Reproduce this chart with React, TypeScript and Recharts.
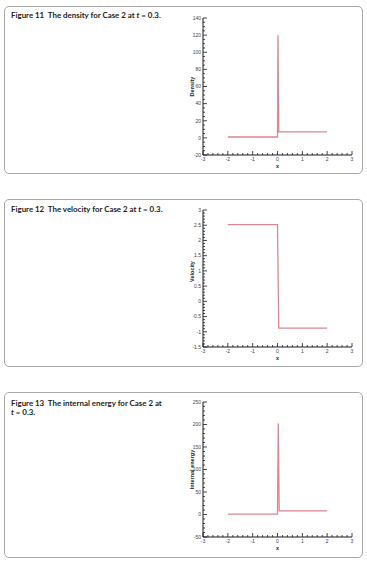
import { LineChart, Line, XAxis, YAxis } from 'recharts';

const xMajor = [-3, -2, -1, 0, 1, 2, 3];

const densityX = [-2, 0, 0.02, 0.05, 2];
const densityY = [1, 1, 120, 7, 7];
const densityTicks = [-20, 0, 20, 40, 60, 80, 100, 120, 140];

const velocityX = [-2, 0, 0.05, 2];
const velocityY = [2.52, 2.52, -0.88, -0.88];
const velocityTicks = [-1.5, -1, -0.5, 0, 0.5, 1, 1.5, 2, 2.5, 3];

const energyX = [-2, 0, 0.03, 0.07, 2];
const energyY = [1, 1, 202, 8, 8];
const energyTicks = [-50, 0, 50, 100, 150, 200, 250];

const LINE = '#da8892';
const AXIS = '#1a1a1a';
const TICK_FONT = 'Liberation Sans, Arial, sans-serif';

const round = (v: number) => Math.round(v * 1000) / 1000;

// majors plus evenly spaced minors between them
function withMinors(major: number[], parts: number) {
  const out: number[] = [];
  for (let i = 0; i < major.length - 1; i++) {
    const step = (major[i + 1] - major[i]) / parts;
    for (let k = 0; k < parts; k++) out.push(round(major[i] + k * step));
  }
  out.push(major[major.length - 1]);
  return out;
}

const isMajor = (v: number, majors: number[]) => majors.some(m => Math.abs(m - v) < 1e-6);

function makeXTick(majors: number[]) {
  return function XTick(props: any) {
    const { x, y, payload } = props;
    const major = isMajor(payload.value, majors);
    return (
      <g>
        <line x1={x} y1={y} x2={x} y2={y - (major ? 4 : 2)} stroke={AXIS} strokeWidth={0.8} />
        {major && (
          <text x={x} y={y + 5.5} textAnchor="middle" fontSize={5} fill="#444" fontFamily={TICK_FONT}>
            {payload.value}
          </text>
        )}
      </g>
    );
  };
}

function makeYTick(majors: number[]) {
  return function YTick(props: any) {
    const { x, y, payload } = props;
    const major = isMajor(payload.value, majors);
    return (
      <g>
        <line x1={x} y1={y} x2={x + (major ? 4 : 2)} y2={y} stroke={AXIS} strokeWidth={0.8} />
        {major && (
          <text x={x - 2} y={y + 1.8} textAnchor="end" fontSize={5} fill="#444" fontFamily={TICK_FONT}>
            {payload.value}
          </text>
        )}
      </g>
    );
  };
}

interface PlotProps {
  xs: number[];
  ys: number[];
  yTicks: number[];
  yMinorParts: number;
  yLabel: string;
  top: number;
  height: number;
  labelDy?: number;
}

function Plot({ xs, ys, yTicks, yMinorParts, yLabel, top, height, labelDy = 0 }: PlotProps) {
  const data = xs.map((x, i) => ({ x, y: ys[i] }));
  const xTicks = withMinors(xMajor, 5);
  const yAll = withMinors(yTicks, yMinorParts);
  return (
    <div style={{ position: 'absolute', left: 170, top, width: 190, height }}>
      <LineChart width={190} height={height} data={data} margin={{ top: 10, right: 8, left: 3, bottom: 0 }}>
        <XAxis
          dataKey="x"
          type="number"
          domain={[-3, 3]}
          ticks={xTicks}
          interval={0}
          tickSize={0}
          tickMargin={0}
          tickLine={false}
          tick={makeXTick(xMajor)}
          stroke={AXIS}
          height={13}
          label={{ value: 'x', position: 'insideBottom', offset: 0, fontSize: 5.5, fontWeight: 'bold', fill: '#222', fontFamily: TICK_FONT }}
        />
        <YAxis
          type="number"
          domain={[yTicks[0], yTicks[yTicks.length - 1]]}
          ticks={yAll}
          interval={0}
          tickSize={0}
          tickMargin={0}
          tickLine={false}
          tick={makeYTick(yTicks)}
          stroke={AXIS}
          width={30}
          label={{
            value: yLabel,
            angle: -90,
            position: 'insideLeft',
            offset: 19,
            dy: labelDy,
            fontSize: 5.5,
            fontWeight: 'bold',
            fill: '#222',
            fontFamily: TICK_FONT,
            textAnchor: 'middle'
          }}
        />
        <Line type="linear" dataKey="y" stroke={LINE} strokeWidth={1.3} dot={false} isAnimationActive={false} />
      </LineChart>
    </div>
  );
}

const captionStyle = {
  position: 'absolute' as const,
  left: 11,
  fontFamily: 'Lato, "Open Sans", sans-serif',
  fontWeight: 700,
  fontSize: 7.9,
  lineHeight: '8.5px',
  color: '#222',
  whiteSpace: 'nowrap' as const
};

const panelStyle = (top: number, height: number) => ({
  position: 'absolute' as const,
  left: 4,
  top,
  width: 357,
  height,
  border: '1px solid #a8a8a8',
  borderRadius: 5,
  background: '#fff'
});

export default function App() {
  return (
    <div style={{ position: 'absolute', left: 0, top: 0, width: 367, height: 577, background: '#fff' }}>
      <div style={panelStyle(6, 166)} />
      <div style={panelStyle(199, 166)} />
      <div style={panelStyle(392, 164)} />

      <div style={{ ...captionStyle, top: 11 }}>
        Figure 11&nbsp;&nbsp;The density for Case 2 at <i>t</i> = 0.3.
      </div>
      <div style={{ ...captionStyle, top: 205 }}>
        Figure 12&nbsp;&nbsp;The velocity for Case 2 at <i>t</i> = 0.3.
      </div>
      <div style={{ ...captionStyle, top: 399 }}>
        Figure 13&nbsp;&nbsp;The internal energy for Case 2 at
        <br />
        <i>t</i> = 0.3.
      </div>

      <Plot xs={densityX} ys={densityY} yTicks={densityTicks} yMinorParts={4} yLabel="Density" top={8} height={160} />
      <Plot xs={velocityX} ys={velocityY} yTicks={velocityTicks} yMinorParts={5} yLabel="Velocity" top={200} height={160} labelDy={-7} />
      <Plot xs={energyX} ys={energyY} yTicks={energyTicks} yMinorParts={5} yLabel="Internal energy" top={392} height={158} />
    </div>
  );
}
